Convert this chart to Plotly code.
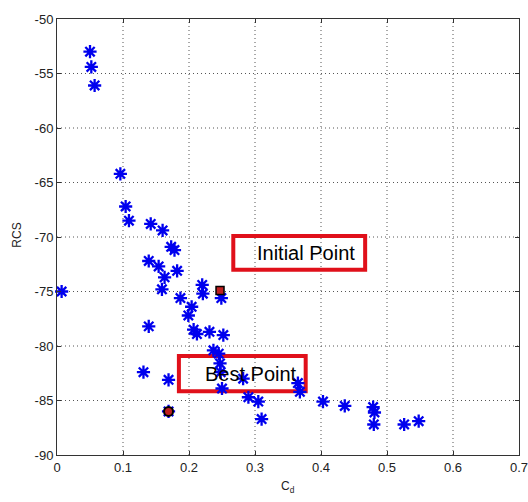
import plotly.graph_objects as go

# Pareto set (blue stars)
cd = [0.050, 0.052, 0.057, 0.096, 0.104, 0.109, 0.142, 0.160, 0.173, 0.178,
      0.139, 0.154, 0.182, 0.163, 0.159, 0.220, 0.221, 0.187, 0.249, 0.204,
      0.199, 0.007, 0.139, 0.207, 0.212, 0.231, 0.252, 0.237, 0.245, 0.247,
      0.248, 0.131, 0.169, 0.282, 0.250, 0.290, 0.305, 0.310, 0.169, 0.365,
      0.368, 0.403, 0.436, 0.479, 0.481, 0.480, 0.526, 0.548]
rcs = [-53.0, -54.4, -56.1, -64.2, -67.2, -68.5, -68.8, -69.4, -70.9, -71.2,
       -72.2, -72.7, -73.1, -73.7, -74.8, -74.4, -75.2, -75.6, -75.6, -76.4,
       -77.2, -75.0, -78.2, -78.5, -78.9, -78.7, -79.0, -80.4, -80.7, -81.6,
       -82.4, -82.4, -83.1, -83.0, -83.9, -84.7, -85.1, -86.7, -86.0, -83.4,
       -84.2, -85.1, -85.5, -85.6, -86.1, -87.2, -87.2, -86.9]

initial_cd = [0.247]
initial_rcs = [-74.9]
best_cd = [0.169]
best_rcs = [-86.0]

x_ticks = [0, 0.1, 0.2, 0.3, 0.4, 0.5, 0.6, 0.7]
x_ticklabels = ["0", "0.1", "0.2", "0.3", "0.4", "0.5", "0.6", "0.7"]
y_ticks = [-90, -85, -80, -75, -70, -65, -60, -55, -50]
y_ticklabels = ["-90", "-85", "-80", "-75", "-70", "-65", "-60", "-55", "-50"]

X_RANGE = [0, 0.7]
Y_RANGE = [-90, -50]

FONT = "Arial, Liberation Sans"

fig = go.Figure()

# dotted grid (drawn from the tick positions)
GRID = dict(color="#555555", width=1, dash="1px,3px")
for xv in x_ticks[1:-1]:
    fig.add_shape(type="line", xref="x", yref="paper", x0=xv, x1=xv, y0=0, y1=1,
                  line=GRID, layer="below")
for yv in y_ticks[1:-1]:
    fig.add_shape(type="line", xref="paper", yref="y", x0=0, x1=1, y0=yv, y1=yv,
                  line=GRID, layer="below")

fig.add_trace(go.Scatter(
    x=cd, y=rcs, mode="markers",
    marker=dict(symbol="asterisk-open", size=11, color="#0000ee",
                line=dict(color="#0000ee", width=2.3)),
    showlegend=False, cliponaxis=False,
))
fig.add_trace(go.Scatter(
    x=initial_cd, y=initial_rcs, mode="markers",
    marker=dict(symbol="square", size=8, color="#c02020",
                line=dict(color="#000000", width=1.5)),
    showlegend=False,
))
fig.add_trace(go.Scatter(
    x=best_cd, y=best_rcs, mode="markers",
    marker=dict(symbol="circle", size=9, color="#c02020",
                line=dict(color="#000000", width=2)),
    showlegend=False,
))

# label boxes
fig.add_shape(type="rect", xref="x", yref="y", x0=0.2671, x1=0.4669,
              y0=-73.0, y1=-69.91, line=dict(color="#e0101a", width=4),
              fillcolor="rgba(0,0,0,0)", layer="below")
fig.add_shape(type="rect", xref="x", yref="y", x0=0.1847, x1=0.3768,
              y0=-84.16, y1=-80.92, line=dict(color="#e0101a", width=4),
              fillcolor="rgba(0,0,0,0)", layer="below")
fig.add_annotation(x=0.3775, y=-71.5, xref="x", yref="y", text="Initial Point",
                   showarrow=False, font=dict(family=FONT, size=20, color="black"))
fig.add_annotation(x=0.2936, y=-82.55, xref="x", yref="y", text="Best Point",
                   showarrow=False, font=dict(family=FONT, size=20, color="black"))

# axis titles
fig.add_annotation(x=0.5, y=-0.074, xref="paper", yref="paper", text="C<sub>d</sub>",
                   showarrow=False, yanchor="middle",
                   font=dict(family=FONT, size=12, color="#222222"))
fig.add_annotation(x=-0.087, y=0.505, xref="paper", yref="paper", text="RCS",
                   showarrow=False, textangle=-90, xanchor="center", yanchor="middle",
                   font=dict(family=FONT, size=12, color="#222222"))

axis_common = dict(
    showline=True, linecolor="#333333", linewidth=1, mirror="ticks",
    ticks="inside", ticklen=4, tickcolor="#333333",
    showgrid=False, zeroline=False, automargin=False,
    ticklabeloverflow="allow",
    tickfont=dict(family=FONT, size=13, color="#222222"),
)

fig.update_xaxes(range=X_RANGE, tickvals=x_ticks, ticktext=x_ticklabels,
                 **axis_common)
fig.update_yaxes(range=Y_RANGE, tickvals=y_ticks, ticktext=y_ticklabels,
                 **axis_common)

fig.update_layout(
    width=528, height=502,
    margin=dict(l=57, r=9, t=19, b=47),
    paper_bgcolor="white", plot_bgcolor="white",
    showlegend=False,
)

fig.write_html(
    "out.html",
    config={"displayModeBar": False},
    post_script="document.body.style.margin='0';document.body.style.overflow='hidden';",
)
